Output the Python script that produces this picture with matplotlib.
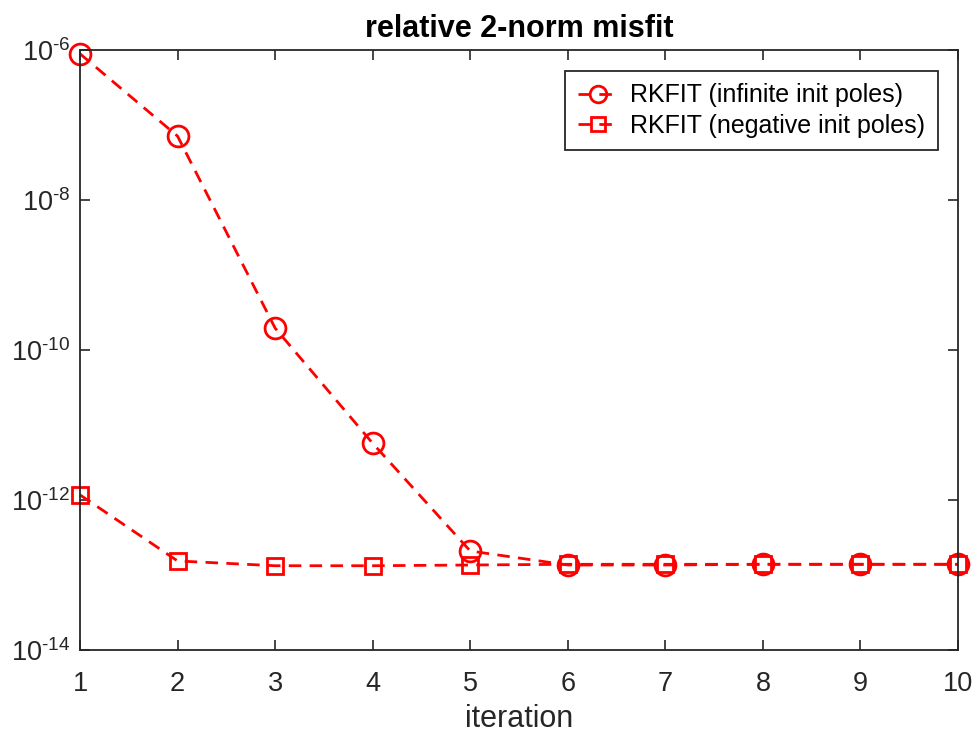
import numpy as np
import matplotlib.pyplot as plt
from matplotlib.ticker import FixedLocator, FixedFormatter, NullLocator

plt.rcParams['font.family'] = ['Liberation Sans', 'DejaVu Sans']
plt.rcParams['mathtext.fontset'] = 'custom'
plt.rcParams['mathtext.rm'] = 'Liberation Sans'
plt.rcParams['mathtext.it'] = 'Liberation Sans'
plt.rcParams['axes.unicode_minus'] = False

iteration = [1, 2, 3, 4, 5, 6, 7, 8, 9, 10]
misfit_inf = [8.9e-7, 7.1e-8, 1.96e-10, 5.7e-12, 2.09e-13, 1.36e-13, 1.36e-13, 1.39e-13, 1.39e-13, 1.39e-13]
misfit_neg = [1.17e-12, 1.54e-13, 1.33e-13, 1.33e-13, 1.36e-13, 1.39e-13, 1.39e-13, 1.39e-13, 1.39e-13, 1.39e-13]
ytick_exp = [14, 12, 10, 8, 6]

dark = '#262626'

fig = plt.figure(figsize=(9.78, 7.34), dpi=100)
ax = fig.add_axes([0.0818, 0.1144, 0.8978, 0.8175])

ax.semilogy(iteration, misfit_inf, 'r--o', markersize=15, markerfacecolor='none',
            markeredgewidth=2, linewidth=2, dashes=(4.5, 3), clip_on=False,
            label='RKFIT (infinite init poles)')
ax.semilogy(iteration, misfit_neg, 'r--s', markersize=12, markerfacecolor='none',
            markeredgewidth=2, linewidth=2, dashes=(4.5, 3), clip_on=False,
            label='RKFIT (negative init poles)')

ax.set_xlim(1, 10)
ax.set_ylim(1e-14, 1e-6)
ax.set_xticks(iteration)
ax.yaxis.set_major_locator(FixedLocator([10.0 ** -e for e in ytick_exp]))
ax.yaxis.set_major_formatter(FixedFormatter([r'$10^{\text{-}%d}$' % e for e in ytick_exp]))
ax.yaxis.set_minor_locator(NullLocator())

ax.tick_params(direction='in', top=True, right=True, length=7, width=1.2,
               labelsize=19.5, colors=dark, pad=7)
ax.tick_params(axis='x', pad=15)
for s in ax.spines.values():
    s.set_color(dark)
    s.set_linewidth(1.3)

ax.set_xlabel('iteration', fontsize=22, color=dark, labelpad=5)
ax.set_title('relative 2-norm misfit', fontsize=22, fontweight='bold', pad=9)

leg = ax.legend(loc='upper right', bbox_to_anchor=(0.977, 0.965), borderaxespad=0,
                fontsize=18, fancybox=False, framealpha=1, edgecolor=dark,
                handlelength=1.6, borderpad=0.5, labelspacing=0.25,
                handletextpad=0.5, markerscale=0.8)
leg.get_frame().set_linewidth(1.3)

fig.savefig('out.png', dpi=100)
